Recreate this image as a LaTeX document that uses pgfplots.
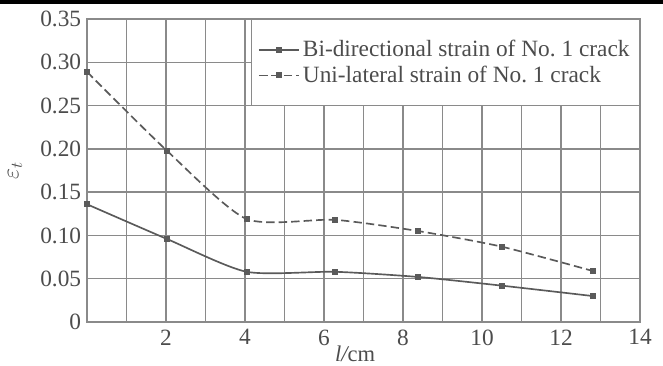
\documentclass[border=0pt]{standalone}
\usepackage{pgfplots}
\pgfplotsset{compat=1.18}
\usepackage{fontspec}
\setmainfont{Liberation Serif}
\definecolor{lc}{HTML}{5A5A5A}
\definecolor{gc}{HTML}{8A8A8A}
\begin{document}
\begin{tikzpicture}
\useasboundingbox (0,0) rectangle (397.8pt,219pt);
\fill[black] (0,216.6pt) rectangle (397.8pt,219pt);
\begin{axis}[
  at={(52.2pt,25.8pt)}, anchor=south west,
  scale only axis, width=331.8pt, height=181.8pt,
  xmin=0, xmax=14, ymin=0, ymax=0.35,
  xtick={2,4,...,14}, minor xtick={1,3,...,13},
  ytick={0,0.05,...,0.351},
  yticklabels={0,0.05,0.10,0.15,0.20,0.25,0.30,0.35},
  /pgf/number format/assume math mode=true,
  grid=both,
  major grid style={gc, line width=0.9pt},
  minor grid style={gc, line width=0.9pt},
  axis line style={gc, line width=1pt},
  tick style={draw=none},
  tick label style={font=\fontsize{14}{15}\selectfont, text=black!70},
  xticklabel style={yshift=-1pt},
  xlabel={\itshape l/\upshape cm},
  xlabel style={font=\fontsize{13.5}{14}\selectfont, text=black!70, at={(axis description cs:0.485,0)}, anchor=north, yshift=-10.5pt},
  ylabel={$\varepsilon_t$},
  ylabel style={font=\fontsize{14}{15}\selectfont, text=black!70, at={(axis description cs:-0.13,0.5)}, anchor=center},
  legend style={at={(1,1)}, anchor=north east, draw=gc, fill=white, line width=0.6pt,
     font=\fontsize{14}{15}\selectfont, text=black!70, inner ysep=10.5pt, inner xsep=4pt,
     row sep=0pt},
  legend cell align=left,
  legend image code/.code={\draw[mark repeat=2,mark phase=2,#1] plot coordinates {(0cm,0cm) (0.42cm,0cm) (0.84cm,0cm)};},
]
\addplot[lc, line width=1pt, smooth, tension=0.4, mark=square*, mark size=1.3pt, mark options={solid}]
 coordinates {(0,0.136) (2.02,0.096) (4.04,0.058) (6.28,0.058) (8.39,0.052) (10.5,0.042) (12.8,0.030)};
\addlegendentry{Bi-directional strain of No.\ 1 crack}
\addplot[lc, line width=1pt, smooth, tension=0.4, dash pattern=on 5pt off 2.5pt, mark=square*, mark size=1.3pt, mark options={solid}]
 coordinates {(0,0.289) (2.02,0.198) (4.04,0.119) (6.28,0.118) (8.39,0.105) (10.5,0.087) (12.8,0.059)};
\addlegendentry{Uni-lateral strain of No.\ 1 crack}
\end{axis}
\end{tikzpicture}
\end{document}
